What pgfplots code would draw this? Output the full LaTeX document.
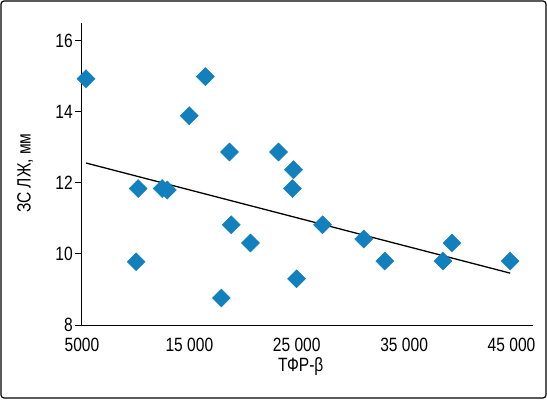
\documentclass[border=0pt]{standalone}
\usepackage{fontspec}
\setmainfont{Liberation Sans}[FakeStretch=0.81]
\usepackage{pgfplots}
\pgfplotsset{compat=1.18}
\definecolor{mk}{RGB}{18,128,189}
\begin{document}
\begin{tikzpicture}[x=1bp,y=1bp]
\useasboundingbox (-82,-74) rectangle (465,325);
\draw[line width=1.2bp, rounded corners=3bp] (-81,-73) rectangle (464,324);
\begin{axis}[
  at={(0,0)}, anchor=south west,
  scale only axis, width=451bp, height=302bp,
  xmin=5000, xmax=47000, ymin=8, ymax=16.5,
  axis x line*=bottom, axis y line*=left,
  axis line style={line width=1bp},
  scaled x ticks=false,
  xtick={5000,15000,25000,35000,45000},
  xticklabels={5000,15 000,25 000,35 000,45 000},
  ytick={8,10,12,14,16}, yticklabels={8,10,12,14,16},
  x tick style={draw=none},
  y tick style={black, line width=1bp},
  tick align=outside, major tick length=7bp,
  ticklabel style={font=\fontsize{19.3}{21}\selectfont},
  yticklabel style={inner sep=2bp},
  xticklabel style={inner sep=0bp, yshift=-6bp},
  xlabel={ТФР-β},
  ylabel={ЗС ЛЖ, мм},
  label style={font=\fontsize{19.3}{21}\selectfont},
  xlabel style={at={(axis description cs:0.485,-0.136)}, anchor=center},
  ylabel style={at={(axis description cs:-0.126,0.503)}, anchor=center},
  clip=false,
]
\addplot[only marks, mark=square*, mark size=6.4bp,
  mark options={rotate=45, fill=mk, draw=mk}] coordinates {
(5370,14.93) (16490,14.99) (14990,13.89) (18730,12.87) (23300,12.87)
(24700,12.37) (10230,11.84) (12470,11.84) (12940,11.80) (24600,11.84)
(27400,10.82) (18900,10.82) (20690,10.31) (10040,9.78) (17980,8.76)
(24980,9.30) (31240,10.42) (33200,9.80) (38610,9.80) (39450,10.31)
(44870,9.80)
};
\addplot[black, line width=1.3bp] coordinates {(5370,12.56) (44870,9.46)};
\end{axis}
\end{tikzpicture}
\end{document}
